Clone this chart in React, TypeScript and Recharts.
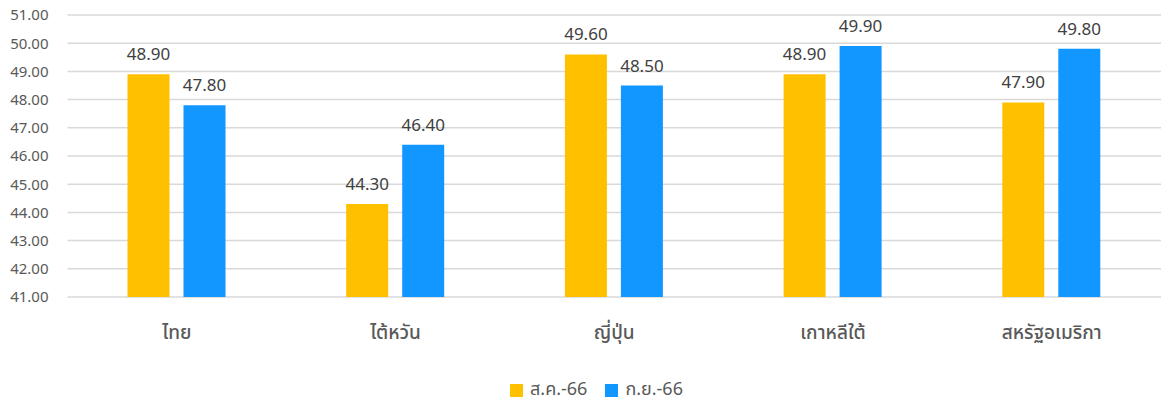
import { BarChart, Bar, XAxis, YAxis, CartesianGrid, Legend, LabelList } from "recharts";

const countries = ["ไทย", "ไต้หวัน", "ญี่ปุ่น", "เกาหลีใต้", "สหรัฐอเมริกา"];
const aug66 = [48.9, 44.3, 49.6, 48.9, 47.9];
const sep66 = [47.8, 46.4, 48.5, 49.9, 49.8];
const yTicks = [41, 42, 43, 44, 45, 46, 47, 48, 49, 50, 51];

const data = countries.map((name, i) => ({ name, aug: aug66[i], sep: sep66[i] }));

const FONT = "'Segoe UI', 'Noto Sans', 'Noto Sans Thai', Tahoma, sans-serif";
const TEXT = "#595959";

function CategoryTick({ x, y, payload }: any) {
  return (
    <text x={x} y={y + 40} textAnchor="middle" fill={TEXT} fontSize={19} fontWeight={500} fontFamily={FONT}>
      {payload.value}
    </text>
  );
}

export default function App() {
  return (
    <div style={{ position: "absolute", left: 0, top: 0, background: "#fff" }}>
      <BarChart
        width={1162}
        height={400}
        data={data}
        margin={{ top: 15, right: 1, bottom: 4, left: 0 }}
        barCategoryGap="27.6%"
        barGap={14}
      >
        <CartesianGrid vertical={false} stroke="#d9d9d9" strokeWidth={1.5} />
        <XAxis
          dataKey="name"
          axisLine={false}
          tickLine={false}
          tickSize={0}
          tick={<CategoryTick />}
          height={79}
          interval={0}
        />
        <YAxis
          domain={[41, 51]}
          ticks={yTicks}
          allowDataOverflow
          axisLine={false}
          tickLine={false}
          tickSize={0}
          tickMargin={19}
          width={67.5}
          tickFormatter={(v: number) => v.toFixed(2)}
          tick={{ fill: TEXT, fontSize: 15, fontFamily: FONT }}
        />
        <Legend
          verticalAlign="bottom"
          height={20}
          iconType="square"
          iconSize={13}
          itemSorter="dataKey"
          wrapperStyle={{ fontFamily: FONT, fontSize: 18, paddingLeft: 25 }}
          formatter={(value: string) => (
            <span style={{ color: TEXT, marginLeft: 3, marginRight: 8 }}>{value}</span>
          )}
        />
        <Bar dataKey="aug" name="ส.ค.-66" fill="#FFC000" barSize={42} isAnimationActive={false}>
          <LabelList
            dataKey="aug"
            position="top"
            offset={14}
            formatter={(v: any) => Number(v).toFixed(2)}
            style={{ fill: "#404040", fontSize: 17, fontFamily: FONT }}
          />
        </Bar>
        <Bar dataKey="sep" name="ก.ย.-66" fill="#1296FF" barSize={42} isAnimationActive={false}>
          <LabelList
            dataKey="sep"
            position="top"
            offset={14}
            formatter={(v: any) => Number(v).toFixed(2)}
            style={{ fill: "#404040", fontSize: 17, fontFamily: FONT }}
          />
        </Bar>
      </BarChart>
    </div>
  );
}
